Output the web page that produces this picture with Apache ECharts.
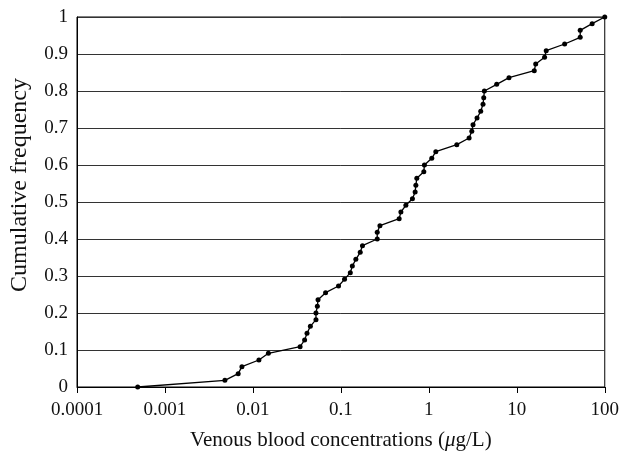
<!DOCTYPE html>
<html><head><meta charset="utf-8">
<script src="https://cdn.jsdelivr.net/npm/echarts@6/dist/echarts.min.js"></script>
<style>html,body{margin:0;padding:0;background:#fff}#c{width:622px;height:456px}</style>
</head><body><div id="c"></div>
<script>
const concentrations = [0.00049,0.0048,0.0068,0.0075,0.0117,0.015,0.0344,0.0387,0.0412,0.045,0.0521,0.0521,0.054,0.055,0.067,0.094,0.11,0.128,0.135,0.148,0.166,0.176,0.259,0.259,0.278,0.46,0.481,0.548,0.651,0.699,0.712,0.73,0.877,0.891,1.08,1.2,2.08,2.87,3.08,3.18,3.53,3.89,4.13,4.21,4.28,5.91,8.15,15.8,16.4,20.7,21.6,35.0,52.6,52.6,71.9,100];
const frequencies = [0,0.018,0.036,0.055,0.073,0.091,0.109,0.127,0.145,0.164,0.182,0.2,0.218,0.236,0.255,0.273,0.291,0.309,0.327,0.345,0.364,0.382,0.4,0.418,0.436,0.455,0.473,0.491,0.509,0.527,0.545,0.564,0.582,0.6,0.618,0.636,0.655,0.673,0.691,0.709,0.727,0.745,0.764,0.782,0.8,0.818,0.836,0.855,0.873,0.891,0.909,0.927,0.945,0.964,0.982,1];
const xTickLabels = ['0.0001','0.001','0.01','0.1','1','10','100'];
const yTickLabels = ['0','0.1','0.2','0.3','0.4','0.5','0.6','0.7','0.8','0.9','1'];

const font = 'Liberation Serif';
const chart = echarts.init(document.getElementById('c'));
chart.setOption({
  animation:false,
  grid:{left:77,right:16,top:17,bottom:65,show:true,borderColor:'#000',borderWidth:1},
  xAxis:{
    type:'log', logBase:10, min:0.0001, max:100,
    name:'Venous blood concentrations ({i|μ}g/L)',
    nameLocation:'middle', nameGap:43,
    nameTextStyle:{fontFamily:font,fontSize:21,color:'#111',rich:{i:{fontFamily:font,fontSize:21,fontStyle:'italic',color:'#111'}}},
    axisLine:{lineStyle:{color:'#000',width:1}},
    axisTick:{show:true,length:6,lineStyle:{color:'#000'}},
    minorTick:{show:false},
    splitLine:{show:false},
    axisLabel:{fontFamily:font,fontSize:19,color:'#111',margin:14,
      formatter:v=>xTickLabels[Math.round(Math.log10(v))+4]}
  },
  yAxis:{
    type:'value', min:0, max:1, interval:0.1,
    name:'Cumulative frequency', nameLocation:'middle', nameGap:45, nameRotate:90,
    nameTextStyle:{fontFamily:font,fontSize:24,color:'#111',padding:[0,0,0,34]},
    axisLine:{show:true,lineStyle:{color:'#000',width:1}},
    axisTick:{show:false},
    splitLine:{show:true,lineStyle:{color:'#333',width:1}},
    axisLabel:{fontFamily:font,fontSize:19,color:'#111',margin:9,
      formatter:(v)=>yTickLabels[Math.round(v*10)]}
  },
  series:[{
    type:'line',
    data:concentrations.map((c,i)=>[c,frequencies[i]]),
    symbol:'circle', symbolSize:5,
    itemStyle:{color:'#000'},
    lineStyle:{color:'#000',width:1.3},
    clip:false
  }]
});
</script></body></html>
